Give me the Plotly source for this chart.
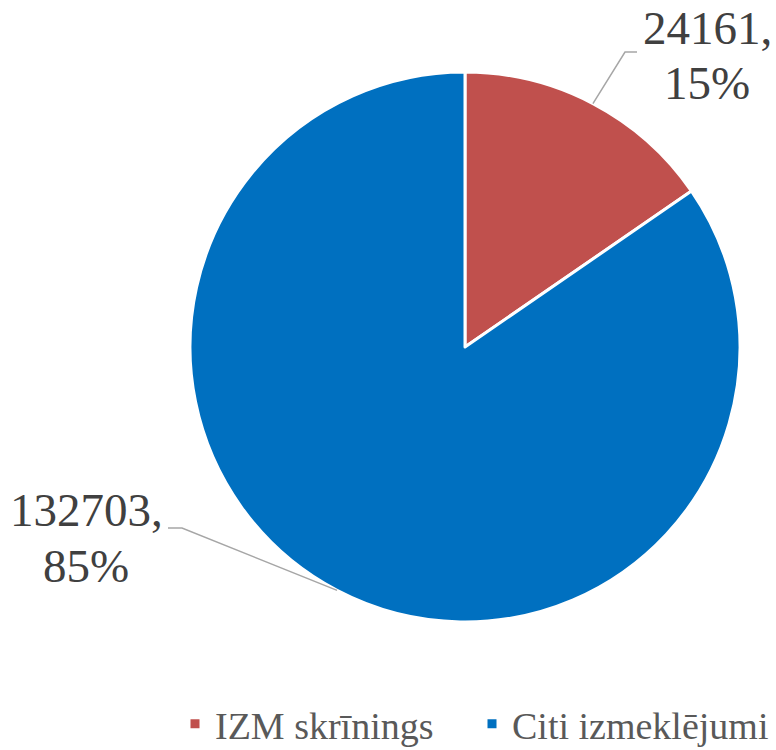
import math
import plotly.graph_objects as go

categories = ["IZM skrīnings", "Citi izmeklējumi"]
values = [24161, 132703]
colors = ["#C0504D", "#0070C0"]

W, H = 776, 750
CX, CY, R = 465, 347, 275  # pie center / radius in pixels
FONT = "Liberation Serif, Times New Roman, serif"

def px(x):
    return x / W

def py(y):
    return 1 - y / H

fig = go.Figure()
fig.add_trace(go.Pie(
    labels=categories,
    values=values,
    sort=False,
    direction="clockwise",
    rotation=0,
    marker=dict(colors=colors, line=dict(color="white", width=3)),
    textinfo="none",
    hoverinfo="label+value+percent",
    domain=dict(x=[px(CX - R), px(CX + R)], y=[py(CY + R), py(CY - R)]),
    showlegend=True,
))

total = sum(values)
cum = 0
mids = []
for v in values:
    mids.append((cum + v / 2) / total * 2 * math.pi)
    cum += v

# label positions (pixel) : (line centers, elbow, end)
label_layout = [
    dict(x=707, y1=28, y2=83, elbow=(625, 52), end=(637, 52)),
    dict(x=86, y1=510, y2=566, elbow=(182, 528), end=(168, 528)),
]

shapes = []
annotations = []
for i, v in enumerate(values):
    a = mids[i]
    ex = CX + R * math.sin(a)
    ey = CY - R * math.cos(a)
    lay = label_layout[i]
    path = "M {} {} L {} {} L {} {}".format(
        px(ex), py(ey), px(lay["elbow"][0]), py(lay["elbow"][1]),
        px(lay["end"][0]), py(lay["end"][1]))
    shapes.append(dict(type="path", xref="paper", yref="paper", path=path,
                       line=dict(color="#A6A6A6", width=1.5)))
    pct = round(v / total * 100)
    annotations.append(dict(text=f"{v},", x=px(lay["x"]), y=py(lay["y1"]),
                            xref="paper", yref="paper", showarrow=False,
                            xanchor="center", yanchor="middle",
                            font=dict(family=FONT, size=47, color="#404040")))
    annotations.append(dict(text=f"{pct}%", x=px(lay["x"]), y=py(lay["y2"]),
                            xref="paper", yref="paper", showarrow=False,
                            xanchor="center", yanchor="middle",
                            font=dict(family=FONT, size=47, color="#404040")))

fig.update_layout(
    width=W, height=H,
    margin=dict(l=0, r=0, t=0, b=0, autoexpand=False),
    paper_bgcolor="white",
    plot_bgcolor="white",
    shapes=shapes,
    annotations=annotations,
    legend=dict(orientation="h", x=px(472), xanchor="center", y=py(724), yanchor="middle",
                font=dict(family=FONT, size=38, color="#595959"),
                itemwidth=30, entrywidth=252, entrywidthmode="pixels",
                bgcolor="rgba(0,0,0,0)"),
)

fig.write_html("out.html", config={"displayModeBar": False},
               post_script="document.body.style.margin='0';document.body.style.overflow='hidden';")
